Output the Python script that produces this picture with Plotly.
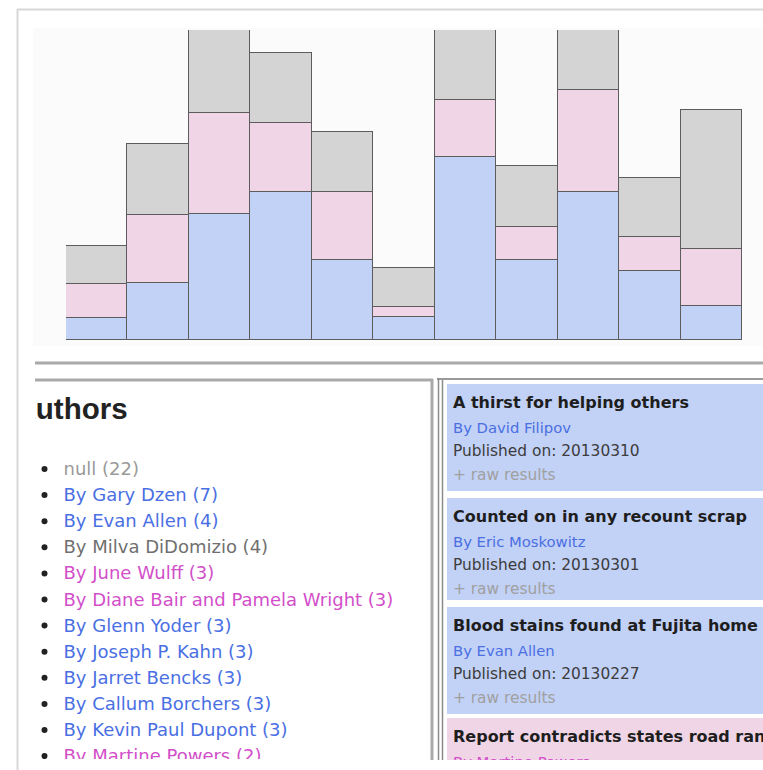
import plotly.graph_objects as go

# ---------------- data ----------------
bar_slots = list(range(11))
blue_vals = [2.2, 5.7, 12.6, 14.8, 8.0, 2.3, 18.3, 8.0, 14.8, 6.9, 3.4]
pink_vals = [3.4, 6.8, 10.1, 6.9, 6.8, 1.0, 5.7, 3.3, 10.2, 3.4, 5.7]
gray_vals = [3.8, 7.1, 8.3, 7.0, 6.0, 3.9, 9.0, 6.1, 8.0, 5.9, 13.9]

heading = "Authors"
author_names = ["null", "By Gary Dzen", "By Evan Allen", "By Milva DiDomizio", "By June Wulff",
                "By Diane Bair and Pamela Wright", "By Glenn Yoder", "By Joseph P. Kahn",
                "By Jarret Bencks", "By Callum Borchers", "By Kevin Paul Dupont", "By Martine Powers"]
author_counts = [22, 7, 4, 4, 3, 3, 3, 3, 3, 3, 3, 2]
author_groups = ["null", "blue", "blue", "gray", "pink", "pink", "blue", "blue", "blue", "blue", "blue", "pink"]

card_titles = ["A thirst for helping others", "Counted on in any recount scrap",
               "Blood stains found at Fujita home", "Report contradicts states road rankings"]
card_authors = ["By David Filipov", "By Eric Moskowitz", "By Evan Allen", "By Martine Powers"]
card_dates = ["20130310", "20130301", "20130227", ""]
card_groups = ["blue", "blue", "blue", "pink"]

# ---------------- layout helpers ----------------
W, H = 763, 770
def X(px):
    return px / W
def Y(py):
    return 1 - py / H

FONT_BODY = "DejaVu Sans, Verdana, sans-serif"
FONT_HEAD = "Liberation Sans, Arial, sans-serif"

C_BLUE_FILL = "#c2d1f6"
C_PINK_FILL = "#f0d5e6"
C_GRAY_FILL = "#d4d4d4"
C_OUTLINE = "#5c5c5c"
text_col = {"null": "#9a9a9a", "blue": "#4a6fe3", "gray": "#707070", "pink": "#d24fc9"}

fig = go.Figure()

# ---------------- stacked bars ----------------
for vals, col, name in [(blue_vals, C_BLUE_FILL, "blue"), (pink_vals, C_PINK_FILL, "pink"), (gray_vals, C_GRAY_FILL, "gray")]:
    fig.add_trace(go.Bar(x=bar_slots, y=vals, name=name, marker=dict(color=col, line=dict(color=C_OUTLINE, width=1.2)),
                         xaxis="x", yaxis="y", showlegend=False, hoverinfo="skip"))

# ---------------- left panel: authors list ----------------
list_y0, list_dy = 470.5, 26.1
ys = [list_y0 + i * list_dy for i in range(len(author_names))]
fig.add_trace(go.Scatter(x=[44.5] * len(ys), y=[v - 1.5 for v in ys], mode="markers", marker=dict(size=6, color="#222"),
                         xaxis="x3", yaxis="y3", showlegend=False, hoverinfo="skip", cliponaxis=True))
fig.add_trace(go.Scatter(x=[63.5] * len(ys), y=ys, mode="text",
                         text=[f"{n} ({c})" for n, c in zip(author_names, author_counts)],
                         textposition="middle right",
                         textfont=dict(family=FONT_BODY, size=18, color=[text_col[g] for g in author_groups]),
                         xaxis="x3", yaxis="y3", showlegend=False, hoverinfo="skip", cliponaxis=True))
fig.add_trace(go.Scatter(x=[14.5], y=[412], mode="text", text=[f"<b>{heading}</b>"], textposition="middle right",
                         textfont=dict(family=FONT_HEAD, size=29.5, color="#222"),
                         xaxis="x3", yaxis="y3", showlegend=False, hoverinfo="skip", cliponaxis=True))

# ---------------- right panel: cards ----------------
card_tops = [384, 498, 607, 718]
card_bottoms = [491, 600, 714, 790]
ty_title = [t + 20 for t in card_tops]
ty_by = [t + 45 for t in card_tops]
ty_pub = [t + 68 for t in card_tops]
ty_raw = [t + 92 for t in card_tops]
fig.add_trace(go.Scatter(x=[453] * 4, y=ty_title, mode="text", text=[f"<b>{t}</b>" for t in card_titles],
                         textposition="middle right", textfont=dict(family=FONT_BODY, size=16, color="#1e1e1e"),
                         xaxis="x4", yaxis="y4", showlegend=False, hoverinfo="skip", cliponaxis=True))
fig.add_trace(go.Scatter(x=[453] * 4, y=ty_by, mode="text", text=card_authors,
                         textposition="middle right",
                         textfont=dict(family=FONT_BODY, size=14.8, color=[text_col[g] for g in card_groups]),
                         xaxis="x4", yaxis="y4", showlegend=False, hoverinfo="skip", cliponaxis=True))
fig.add_trace(go.Scatter(x=[453] * 3, y=ty_pub[:3], mode="text", text=[f"Published on: {d}" for d in card_dates[:3]],
                         textposition="middle right", textfont=dict(family=FONT_BODY, size=15.4, color="#3c3c3c"),
                         xaxis="x4", yaxis="y4", showlegend=False, hoverinfo="skip", cliponaxis=True))
fig.add_trace(go.Scatter(x=[453] * 3, y=ty_raw[:3], mode="text", text=["+ raw results"] * 3,
                         textposition="middle right", textfont=dict(family=FONT_BODY, size=15.4, color="#a0a0a0"),
                         xaxis="x4", yaxis="y4", showlegend=False, hoverinfo="skip", cliponaxis=True))

# ---------------- shapes (page chrome) ----------------
shapes = []
def rect(x0, y0, x1, y1, fill):
    shapes.append(dict(type="rect", xref="paper", yref="paper", x0=X(x0), x1=X(x1), y0=Y(y1), y1=Y(y0),
                       fillcolor=fill, line=dict(width=0), layer="below"))
def line(x0, y0, x1, y1, col, lw):
    shapes.append(dict(type="line", xref="paper", yref="paper", x0=X(x0), x1=X(x1), y0=Y(y0), y1=Y(y1),
                       line=dict(color=col, width=lw), layer="below"))

rect(33, 28, W, 346, "#fbfbfb")
line(17.5, 9, 17.5, H, "#d8d8d8", 2)
line(17, 9.5, W, 9.5, "#d8d8d8", 2)
line(35, 363, W, 363, "#a9a9a9", 3)
line(35, 380, 433, 380, "#a9a9a9", 3)
line(432, 379, 432, 760, "#a9a9a9", 3)
line(437, 379, W, 379, "#9a9a9a", 2)
line(438.5, 378, 438.5, 760, "#8a8a8a", 1.5)
line(442.5, 380, 442.5, 760, "#8a8a8a", 1.5)
for t, b, g in zip(card_tops, card_bottoms, card_groups):
    rect(447, t, W, min(b, 760), C_BLUE_FILL if g == "blue" else C_PINK_FILL)

# ---------------- axes ----------------
hidden = dict(showgrid=False, zeroline=False, showticklabels=False, ticks="", showline=False, fixedrange=True)
fig.update_layout(
    width=W, height=H, margin=dict(l=0, r=0, t=0, b=0),
    paper_bgcolor="white", plot_bgcolor="rgba(0,0,0,0)",
    barmode="stack", bargap=0, showlegend=False, shapes=shapes,
    xaxis=dict(domain=[X(66), X(742)], range=[-0.5, 10.5], anchor="y", **hidden),
    yaxis=dict(domain=[Y(340), Y(30)], range=[0, 31.0], anchor="x", **hidden),
    xaxis3=dict(domain=[X(35), X(430.5)], range=[35, 430.5], anchor="y3", **hidden),
    yaxis3=dict(domain=[Y(759), Y(382)], range=[759, 382], anchor="x3", **hidden),
    xaxis4=dict(domain=[X(447), 1.0], range=[447, W], anchor="y4", **hidden),
    yaxis4=dict(domain=[Y(760), Y(384)], range=[760, 384], anchor="x4", **hidden),
)

fig.write_html("out.html", config={"displayModeBar": False},
               post_script="document.body.style.margin='0';document.documentElement.style.overflow='hidden';document.body.style.overflow='hidden';")
